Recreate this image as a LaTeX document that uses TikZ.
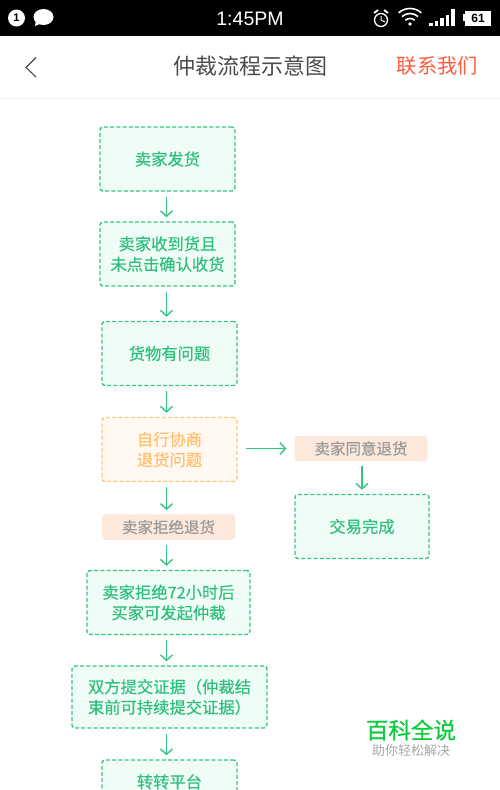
\documentclass[tikz,border=0pt]{standalone}
\usepackage{fontspec}
\setmainfont{Noto Sans CJK SC}
\newfontfamily\latinfont{Liberation Sans}
\newfontfamily\boxfont[FakeBold=0.35]{Noto Sans CJK SC}
\newfontfamily\markfont[FakeBold=0.7]{Noto Sans CJK SC}
\usepackage{xcolor}
\usepackage{tikz}
\usetikzlibrary{positioning, shapes, calc, arrows.meta}

\definecolor{flowgreen}{HTML}{35C583}
\definecolor{flowfill}{HTML}{F0FDF7}
\definecolor{flowtext}{HTML}{2EBF7C}
\definecolor{askorange}{HTML}{FFC878}
\definecolor{asktext}{HTML}{FFC070}
\definecolor{askfill}{HTML}{FFF9F2}
\definecolor{tagfill}{HTML}{FDE8DC}
\definecolor{taggray}{HTML}{9A9A9A}
\definecolor{titlegray}{HTML}{4A4A4A}
\definecolor{contactred}{HTML}{FF5C3E}
\definecolor{markgreen}{HTML}{0CCB3C}

\newcommand{\fsize}[1]{\fontsize{#1}{20.5}\selectfont}

\begin{document}
\begin{tikzpicture}[x=1pt, y=-1pt,
    stepbox/.style={draw=flowgreen, fill=flowfill, text=flowtext, line width=1.4pt,
      dash pattern=on 4pt off 2.2pt, rounded corners=3pt, minimum width=135pt, minimum height=64pt,
      inner sep=0pt, align=center, font=\boxfont\fsize{16.3}},
    askbox/.style={stepbox, draw=askorange, fill=askfill, text=asktext},
    tagbox/.style={fill=tagfill, text=taggray, rounded corners=3pt, minimum width=133pt,
      minimum height=25.5pt, inner sep=0pt, font=\boxfont\fsize{15.5}},
    flow/.style={-{Straight Barb[length=5.5pt, width=12pt, line width=1.4pt]}, draw=flowgreen, line width=1.4pt,
      shorten <=5pt, shorten >=4pt},
    icon/.style={white, line width=1.3pt}]
  \useasboundingbox (0, 0) rectangle (500, 790);
  \clip (0, 0) rectangle (500, 790);

  % status bar
  \fill[black] (0, 0) rectangle (500, 36);
  \node[circle, fill=white, text=black, inner sep=0pt, minimum size=17pt, font=\latinfont\bfseries\fontsize{11}{12}\selectfont] (badge) at (16.5, 18) {1};
  \fill[white] (43.5, 17) ellipse [x radius=10pt, y radius=8pt];
  \fill[white] (36, 20) -- (35, 26) -- (42, 23) -- cycle;
  \node[text=white, inner sep=0pt, font=\latinfont\fontsize{19.5}{20}\selectfont] (clock) at (250, 19) {1:45PM};
  \draw[icon] (381, 20) circle [radius=6.5pt];
  \draw[icon, line width=1pt] (381, 16) -- (381, 20) -- (385, 22);
  \draw[icon, line width=1.8pt] (374, 13) -- (378, 10);
  \draw[icon, line width=1.8pt] (388, 13) -- (384, 10);
  \foreach \r in {7, 12, 17} {
    \draw[icon, line width=1.6pt] (410, 25.5) ++(48:\r pt) arc [start angle=48, end angle=132, radius=\r pt];
  }
  \fill[white] (410, 24) circle [radius=1.8pt];
  \foreach \bx/\bh in {431/3, 436.5/5, 442/8, 447.5/11, 453/16.5} {
    \fill[white] (\bx-1.8, 25.5) rectangle (\bx+1.8, 25.5-\bh);
  }
  \fill[white] (463, 14) rectangle (465, 21);
  \node[fill=white, text=black, inner sep=0pt, minimum width=26pt, minimum height=15pt, font=\latinfont\bfseries\fontsize{12}{12}\selectfont] (battery) at (478, 18) {61};

  % header
  \draw[titlegray, line width=1.1pt] (36, 57.5) -- (26, 67.5) -- (36, 77);
  \node[text=titlegray, inner sep=0pt, font=\fsize{22}] (title) at (250, 66) {仲裁流程示意图};
  \node[text=contactred, inner sep=0pt, font=\fsize{20.3}] (contact) at (437.5, 66) {联系我们};
  \draw[black!5, line width=1.2pt] (0, 98.5) -- (500, 98.5);

  % flow nodes
  \coordinate (lane) at (166.5, 0);
  \node[stepbox] (deliver) at (167.5, 159) {卖家发货};
  \node[stepbox] (receive) at (167.5, 254) {卖家收到货且\\未点击确认收货};
  \node[stepbox] (problem) at (169.5, 353.5) {货物有问题};
  \node[askbox] (talk) at (169.5, 449.5) {自行协商\\退货问题};
  \node[tagbox] (refuse) at (168.5, 527) {卖家拒绝退货};
  \node[stepbox, minimum width=163pt] (dispute) at (168.5, 602.5) {卖家拒绝72小时后\\买家可发起仲裁};
  \node[stepbox, minimum width=195pt, minimum height=62pt] (evidence) at (169.5, 697) {双方提交证据（仲裁结\\束前可持续提交证据）};
  \node[stepbox, text height=12pt, text depth=20pt] (platform) at (169.5, 792) {转转平台};
  \node[tagbox] (agree) at (361, 448.5) {卖家同意退货};
  \node[stepbox, minimum width=134pt] (done) at (362, 526.5) {交易完成};

  % flow arrows
  \draw[flow] (deliver.south -| lane) -- (receive.north -| lane);
  \draw[flow] (receive.south -| lane) -- (problem.north -| lane);
  \draw[flow] (problem.south -| lane) -- (talk.north -| lane);
  \draw[flow] (talk.south -| lane) -- (refuse.north -| lane);
  \draw[flow] (refuse.south -| lane) -- (dispute.north -| lane);
  \draw[flow] (dispute.south -| lane) -- (evidence.north -| lane);
  \draw[flow] (evidence.south -| lane) -- (platform.north -| lane);
  \draw[flow, shorten <=8pt, shorten >=8pt] (talk.east |- agree) -- (agree.west);
  \draw[flow] (agree.south -| done) -- (done.north);

  % mark
  \node[text=markgreen, inner sep=0pt, font=\markfont\fsize{22.5}] (mark) at (411, 730) {百科全说};
  \node[text=black!35, inner sep=0pt, font=\fsize{13}] (slogan) at (411, 751) {助你轻松解决};
\end{tikzpicture}
\end{document}
